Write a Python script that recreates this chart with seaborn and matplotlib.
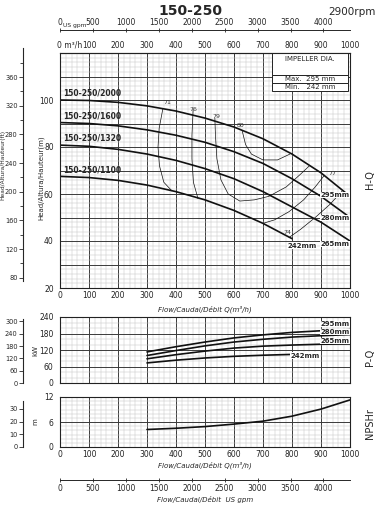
import pandas as pd
import matplotlib.pyplot as plt
import seaborn as sns
from matplotlib.ticker import MultipleLocator, FuncFormatter
from matplotlib.patches import Rectangle

# H-Q curves, flow in m3/h, head in m
flow = [0, 100, 200, 300, 400, 500, 600, 700, 800, 900, 1000]
head_295 = [100, 99.8, 99, 97.5, 95.3, 92.3, 88.5, 83.5, 77, 69, 59]
head_280 = [90.4, 90, 89, 87.3, 85, 82, 78, 73, 66.5, 59, 50]
head_265 = [80.8, 80.3, 79, 77, 74.3, 70.8, 66.5, 61, 54.5, 48, 40]
flow_242 = [0, 100, 200, 300, 400, 500, 600, 700, 800]
head_242 = [67.5, 67, 65.8, 63.8, 61, 57.5, 53, 47.5, 41]
model_names = ['150-250/2000', '150-250/1600', '150-250/1320', '150-250/1100']
dia_labels = ['295mm', '280mm', '265mm', '242mm']

# efficiency lines (%)
eff_71_flow = [355, 342, 338, 343, 358, 386]
eff_71_head = [96.5, 88, 80, 72, 65, 61.3]
eff_76_flow = [459, 455, 455, 460, 476]
eff_76_head = [95.8, 85, 75, 65, 58]
eff_79_flow = [534, 536, 541, 555, 580, 620, 670, 720, 780, 830, 860]
eff_79_head = [92.3, 85, 75, 66, 60, 57, 57.5, 59, 63, 68.5, 72]
eff_80_flow = [628, 640, 660, 700, 750, 793]
eff_80_head = [87, 81, 77, 74.5, 74.5, 77]
eff_77_flow = [912, 880, 840, 790, 740, 700]
eff_77_head = [68, 63, 57.5, 52.5, 49, 47.5]
eff_74_flow = [790, 830, 880, 930, 975]
eff_74_head = [41.5, 45, 50, 55.5, 61.5]

# P-Q curves, kW
flow_p = [300, 400, 500, 600, 700, 800, 900, 1000]
kw_295 = [113, 132, 149, 164, 175, 184, 190, 194]
kw_280 = [100, 118, 135, 149, 159, 167, 172, 176]
kw_265 = [88, 103, 116, 127, 134, 138, 141, 142]
flow_p242 = [300, 400, 500, 600, 700, 800]
kw_242 = [73, 83, 91, 97, 101, 104]

# NPSHr, m
flow_n = [300, 400, 500, 600, 700, 800, 900, 1000]
npsh = [4.2, 4.5, 4.9, 5.5, 6.2, 7.4, 9.1, 11.3]

M_TO_FT = 3.2808
KW_TO_HP = 1.341
M3H_TO_GPM = 4.4029

sns.set_theme(style='white')
plt.rcParams['font.family'] = ['Liberation Sans Narrow', 'DejaVu Sans']
plt.rcParams['axes.linewidth'] = 0.8

W, H = 380, 507
fig = plt.figure(figsize=(3.8, 5.07), dpi=100)


def box(left, top, right, bottom):
    return [left / W, 1 - bottom / H, (right - left) / W, (bottom - top) / H]


ax1 = fig.add_axes(box(60, 53, 350, 288))
ax2 = fig.add_axes(box(60, 317, 350, 383))
ax3 = fig.add_axes(box(60, 397, 350, 447))

tick_fs = 5.5
side_fs = 4.8
lab_fs = 5


def style_grid(ax, ymaj, ymin):
    ax.set_xlim(0, 1000)
    ax.xaxis.set_major_locator(MultipleLocator(100))
    ax.xaxis.set_minor_locator(MultipleLocator(20))
    ax.yaxis.set_major_locator(MultipleLocator(ymaj))
    ax.yaxis.set_minor_locator(MultipleLocator(ymin))
    ax.grid(which='major', color='#3a3a3a', lw=0.7)
    ax.grid(which='minor', color='#c4c4c4', lw=0.35)
    ax.set_axisbelow(True)
    for s in ax.spines.values():
        s.set_color('#222')
    ax.tick_params(which='both', length=0, labelsize=tick_fs, colors='#222', pad=2)


def line(ax, x, y, lw=1.2):
    sns.lineplot(x=x, y=y, ax=ax, color='#111', lw=lw, sort=False, estimator=None)


# ---- H-Q ----
style_grid(ax1, 10, 2)
ax1.set_ylim(20, 120)
ax1.yaxis.set_major_formatter(FuncFormatter(lambda v, p: f'{v:.0f}' if v % 20 == 0 and v <= 100 else ''))
ax1.tick_params(axis='y', which='major', length=2.5, direction='out')
for x, y in [(flow, head_295), (flow, head_280), (flow, head_265), (flow_242, head_242)]:
    line(ax1, x, y)
for x, y in [(eff_71_flow, eff_71_head), (eff_76_flow, eff_76_head), (eff_79_flow, eff_79_head),
             (eff_80_flow, eff_80_head), (eff_77_flow, eff_77_head), (eff_74_flow, eff_74_head)]:
    line(ax1, x, y, lw=0.5)
for name, y0 in zip(model_names, [head_295[0], head_280[0], head_265[0], head_242[0]]):
    ax1.text(12, y0 + 1, name, fontsize=5.5, weight='bold', va='bottom', ha='left')
for txt, x, y in [('71', 369, 98.8), ('76', 459, 96), ('79', 538, 93), ('80', 624, 89.3),
                  ('77', 941, 68.8), ('74', 783, 43.8)]:
    ax1.text(x, y, txt, fontsize=4.5, ha='center', va='center', color='#333')
for txt, x, y in [('295mm', 948, 59.5), ('280mm', 948, 49.8), ('265mm', 948, 38.8), ('242mm', 834, 38)]:
    ax1.text(x, y, txt, fontsize=5, weight='bold', ha='center', va='center',
             bbox=dict(facecolor='white', edgecolor='none', pad=0.2))
ax1.set_xlabel('Flow/Caudal/Débit Q(m³/h)', fontsize=lab_fs, style='italic', labelpad=2, loc='center')
ax1.xaxis.set_label_coords(0.5, -0.075)
ax1.set_ylabel('Head/Altura/Hauteur(m)', fontsize=lab_fs, labelpad=2)
ax1.yaxis.set_label_coords(-0.055, 0.47)

# impeller box
for (y0, y1) in [(110.8, 119.8), (107.4, 110.8), (103.7, 107.4)]:
    ax1.add_patch(Rectangle((731, y1), 262, y0 - y1, fill=True, facecolor='white', edgecolor='#222', lw=0.7))
ax1.text(862, 117.4, 'IMPELLER DIA.', fontsize=5, ha='center', va='center')
ax1.text(862, 109.1, 'Max.  295 mm', fontsize=5, ha='center', va='center')
ax1.text(862, 105.5, 'Min.   242 mm', fontsize=5, ha='center', va='center')

# top m3/h labels
top_q = ax1.secondary_xaxis('top')
top_q.set_xticks(range(0, 1001, 100))
top_q.set_xticklabels([''] + [str(v) for v in range(100, 1001, 100)])
top_q.tick_params(length=0, labelsize=tick_fs, pad=2)
ax1.text(-10, 121.5, '0 m³/h', fontsize=tick_fs, ha='left', va='bottom')

# top US gpm axis
top_g = ax1.secondary_xaxis(1.098, functions=(lambda q: q * M3H_TO_GPM, lambda g: g / M3H_TO_GPM))
top_g.set_xticks(range(0, 4001, 500))
top_g.set_xticklabels(['0'] + [str(v) for v in range(500, 4001, 500)])
top_g.tick_params(length=3, width=0.6, direction='inout', labelsize=tick_fs, pad=0.5)
top_g.spines['top'].set_linewidth(0.7)
ax1.text(12, 130.6, 'US gpm', fontsize=4.3, ha='left', va='bottom')

# left ft axis
ft = ax1.secondary_yaxis(-0.1276, functions=(lambda m: m * M_TO_FT, lambda f: f / M_TO_FT))
ft.set_yticks(range(80, 361, 40))
ft.yaxis.set_minor_locator(MultipleLocator(20))
ft.tick_params(which='major', length=3, width=0.6, labelsize=side_fs, pad=0.8)
ft.tick_params(which='minor', length=2.5, width=0.6)
ft.spines['left'].set_bounds(75, 400)
fig.text(3 / W, 1 - 165 / H, 'Head/Altura/Hauteur(ft)', fontsize=4.2, rotation=90,
         ha='center', va='center')

# ---- P-Q ----
style_grid(ax2, 60, 20)
ax2.set_ylim(0, 240)
ax2.set_xticklabels([])
ax2.tick_params(axis='y', which='major', length=2.5, direction='out')
for x, y in [(flow_p, kw_295), (flow_p, kw_280), (flow_p, kw_265), (flow_p242, kw_242)]:
    line(ax2, x, y)
for txt, x, y in [('295mm', 948, 214), ('280mm', 948, 185), ('265mm', 948, 153), ('242mm', 845, 99)]:
    ax2.text(x, y, txt, fontsize=5, weight='bold', ha='center', va='center',
             bbox=dict(facecolor='white', edgecolor='none', pad=0.2))
ax2.set_ylabel('kW', fontsize=lab_fs, labelpad=2)
ax2.yaxis.set_label_coords(-0.075, 0.5)
hp = ax2.secondary_yaxis(-0.1276, functions=(lambda k: k * KW_TO_HP, lambda h: h / KW_TO_HP))
hp.set_yticks(range(0, 301, 60))
hp.tick_params(length=3, width=0.6, labelsize=side_fs, pad=0.8)
hp.spines['left'].set_bounds(0, 310)

# ---- NPSHr ----
style_grid(ax3, 6, 1)
ax3.set_ylim(0, 12)
ax3.tick_params(axis='y', which='major', length=2.5, direction='out')
line(ax3, flow_n, npsh)
ax3.set_xlabel('Flow/Caudal/Débit Q(m³/h)', fontsize=lab_fs, style='italic', labelpad=2)
ax3.set_ylabel('m', fontsize=lab_fs, labelpad=2)
ax3.yaxis.set_label_coords(-0.075, 0.5)
ft3 = ax3.secondary_yaxis(-0.1276, functions=(lambda m: m * M_TO_FT, lambda f: f / M_TO_FT))
ft3.set_yticks(range(0, 31, 10))
ft3.tick_params(length=3, width=0.6, labelsize=side_fs, pad=0.8)
ft3.spines['left'].set_bounds(0, 36)

bot_g = ax3.secondary_xaxis(-0.66, functions=(lambda q: q * M3H_TO_GPM, lambda g: g / M3H_TO_GPM))
bot_g.set_xticks(range(0, 4001, 500))
bot_g.tick_params(length=3, width=0.6, direction='inout', labelsize=tick_fs, pad=1.5)
bot_g.spines['bottom'].set_linewidth(0.7)
bot_g.set_xlabel('Flow/Caudal/Débit  US gpm', fontsize=lab_fs, style='italic', labelpad=2)

# titles and side labels
fig.text(190 / W, 1 - 11 / H, '150-250', fontsize=10, weight='bold', ha='center', va='center')
fig.text(352 / W, 1 - 12 / H, '2900rpm', fontsize=7.5, ha='center', va='center')
for txt, y in [('H-Q', 180), ('P-Q', 357), ('NPSHr', 424)]:
    fig.text(370 / W, 1 - y / H, txt, fontsize=7, rotation=90, ha='center', va='center')

fig.savefig('out.png', dpi=100)
